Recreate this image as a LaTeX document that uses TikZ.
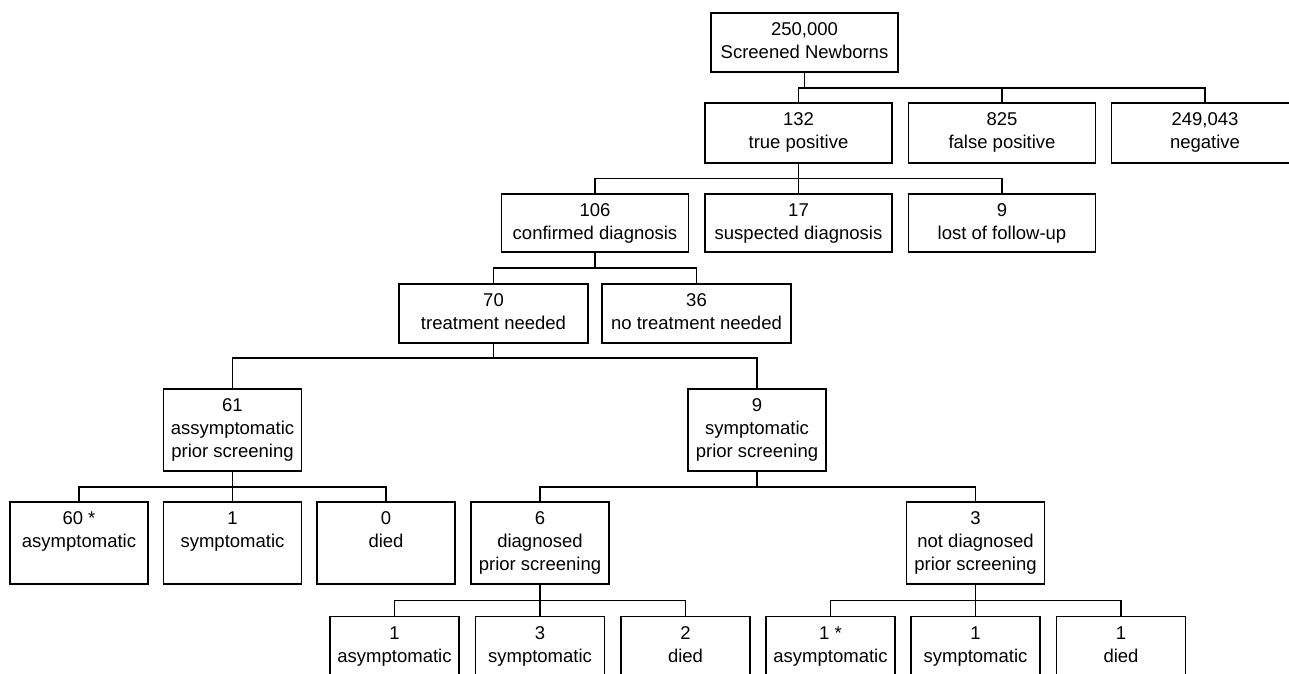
\documentclass[tikz,border=0pt]{standalone}
\usepackage{fontspec}
\setmainfont{Liberation Sans}
\newcommand\bxt[3]{\parbox[c][#2][t]{#1}{\centering\vspace*{10pt}#3\par}}
\tikzset{
  bx/.style={draw, line width=1.4pt, inner sep=0pt, outer sep=0pt, anchor=north,
             font=\fontsize{18.5}{23}\selectfont},
  ln/.style={line width=1.4pt}
}
\begin{document}
\begin{tikzpicture}[x=1pt,y=-1pt]
\useasboundingbox (0,0) rectangle (1289,673);
\clip (0,0) rectangle (1289,673);
% level 1
\node[bx] (top) at (804.5,13) {\bxt{187pt}{59pt}{250,000\\Screened Newborns}};
% level 2
\node[bx] (tp) at (798.5,103) {\bxt{187pt}{60pt}{132\\true positive}};
\node[bx] (fp) at (1002,103) {\bxt{187pt}{60pt}{825\\false positive}};
\node[bx] (ng) at (1205,103) {\bxt{187pt}{60pt}{249,043\\negative}};
% level 3
\node[bx] (cd) at (595,194) {\bxt{187pt}{58pt}{106\\confirmed diagnosis}};
\node[bx] (sd) at (798.5,194) {\bxt{187pt}{58pt}{17\\suspected diagnosis}};
\node[bx] (lf) at (1002,194) {\bxt{187pt}{58pt}{9\\lost of follow-up}};
% level 4
\node[bx] (tn) at (493.5,284) {\bxt{189pt}{59pt}{70\\treatment needed}};
\node[bx] (nt) at (696.5,284) {\bxt{189pt}{59pt}{36\\no treatment needed}};
% level 5
\node[bx] (a61) at (232.5,389) {\bxt{138pt}{82pt}{61\\assymptomatic\\prior screening}};
\node[bx] (s9) at (757,389) {\bxt{138pt}{82pt}{9\\symptomatic\\prior screening}};
% level 6
\node[bx] (c60) at (79,502) {\bxt{138pt}{82pt}{60 *\\asymptomatic}};
\node[bx] (c1) at (232.5,502) {\bxt{138pt}{82pt}{1\\symptomatic}};
\node[bx] (c0) at (386,502) {\bxt{138pt}{82pt}{0\\died}};
\node[bx] (d6) at (540,502) {\bxt{138pt}{82pt}{6\\diagnosed\\prior screening}};
\node[bx] (n3) at (975.5,502) {\bxt{138pt}{82pt}{3\\not diagnosed\\prior screening}};
% level 7
\node[bx] (e1) at (394.5,616.5) {\bxt{129pt}{82pt}{1\\asymptomatic}};
\node[bx] (e2) at (540,616.5) {\bxt{129pt}{82pt}{3\\symptomatic}};
\node[bx] (e3) at (685.5,616.5) {\bxt{129pt}{82pt}{2\\died}};
\node[bx] (f1) at (830.5,616.5) {\bxt{129pt}{82pt}{1 *\\asymptomatic}};
\node[bx] (f2) at (975.5,616.5) {\bxt{129pt}{82pt}{1\\symptomatic}};
\node[bx] (f3) at (1121,616.5) {\bxt{129pt}{82pt}{1\\died}};
% connectors
\draw[ln] (top.south) -- ++(0,16);
\draw[ln] (tp.north) -- ++(0,-15) -| (ng.north);
\draw[ln] (fp.north) -- ++(0,-15);
\draw[ln] (tp.south) -- (sd.north);
\draw[ln] (cd.north) -- ++(0,-15.5) -| (lf.north);
\draw[ln] (cd.south) -- ++(0,16);
\draw[ln] (tn.north) -- ++(0,-16) -| (nt.north);
\draw[ln] (tn.south) -- ++(0,15);
\draw[ln] (a61.north) -- ++(0,-31) -| (s9.north);
\draw[ln] (a61.south) -- (c1.north);
\draw[ln] (c60.north) -- ++(0,-15) -| (c0.north);
\draw[ln] (s9.south) -- ++(0,16);
\draw[ln] (d6.north) -- ++(0,-15) -| (n3.north);
\draw[ln] (d6.south) -- (e2.north);
\draw[ln] (e1.north) -- ++(0,-16) -| (e3.north);
\draw[ln] (n3.south) -- (f2.north);
\draw[ln] (f1.north) -- ++(0,-16) -| (f3.north);
\end{tikzpicture}
\end{document}
